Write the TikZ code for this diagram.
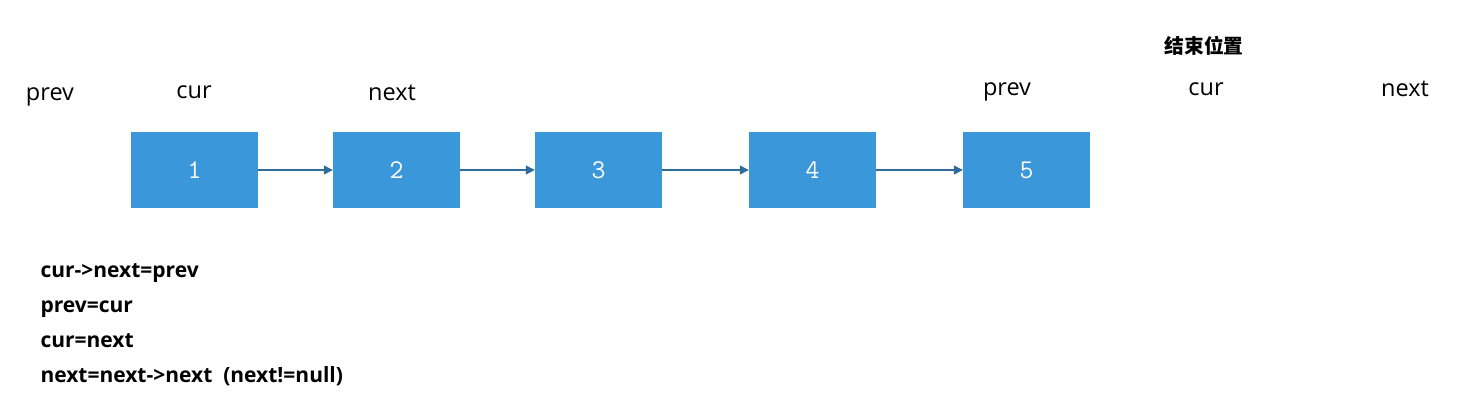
\documentclass[tikz,border=0pt]{standalone}
\usepackage{fontspec}
\setmainfont{Open Sans}
\newfontfamily\cjkfont{Noto Sans CJK SC}
\usetikzlibrary{arrows.meta}
\definecolor{boxblue}{HTML}{3A98DA}
\definecolor{arrowblue}{HTML}{2F6C9A}
\begin{document}
\begin{tikzpicture}[x=1pt,y=-1pt,
  listbox/.style={draw=none,fill=boxblue,minimum width=127pt,minimum height=76pt,inner sep=0pt,text=white,font=\ttfamily\fontsize{27}{30}\selectfont},
  link/.style={draw=arrowblue,line width=1.3pt,-{Triangle[length=9pt,width=9pt]}},
  ptr/.style={font=\fontsize{23.5}{28}\selectfont,anchor=base},
  code/.style={font=\bfseries\fontsize{21}{25}\selectfont,anchor=base west}]
\useasboundingbox (0,0) rectangle (1463,416);
\node[listbox] (n1) at (194.5,170) {1};
\node[listbox] (n2) at (396.5,170) {2};
\node[listbox] (n3) at (598.5,170) {3};
\node[listbox] (n4) at (812.5,170) {4};
\node[listbox] (n5) at (1026.5,170) {5};
\draw[link] (n1) -- (n2);
\draw[link] (n2) -- (n3);
\draw[link] (n3) -- (n4);
\draw[link] (n4) -- (n5);
\node[ptr] (p1) at (50,100) {prev};
\node[ptr] (c1) at (194,98) {cur};
\node[ptr] (x1) at (392,100) {next};
\node[ptr] (p2) at (1007,95) {prev};
\node[ptr] (c2) at (1206,95) {cur};
\node[ptr] (x2) at (1405,96) {next};
\node[font=\cjkfont\bfseries\fontsize{19.8}{24}\selectfont,anchor=base] (end) at (1204,53) {结束位置};
\node[code] (l1) at (37,277) {cur->next=prev};
\node[code] (l2) at (37,312) {prev=cur};
\node[code] (l3) at (37,347) {cur=next};
\node[code] (l4) at (37,382) {next=next->next\ \ (next!=null)};
\end{tikzpicture}
\end{document}
